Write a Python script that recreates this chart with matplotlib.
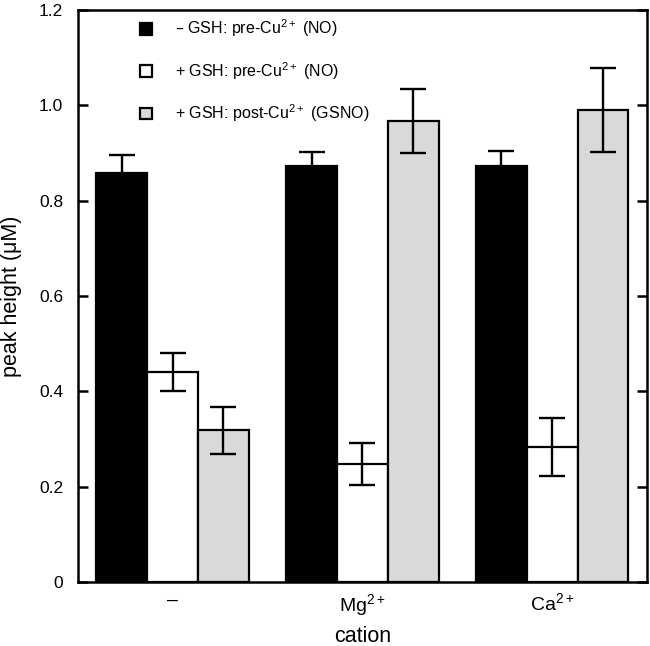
import matplotlib
matplotlib.use("Agg")
import matplotlib.pyplot as plt
import numpy as np

plt.rcParams['font.family'] = ['Liberation Sans', 'DejaVu Sans']
plt.rcParams['mathtext.default'] = 'regular'

categories = ['–', 'Mg$^{2+}$', 'Ca$^{2+}$']
series_labels = ['– GSH: pre-Cu$^{2+}$ (NO)',
                 '+ GSH: pre-Cu$^{2+}$ (NO)',
                 '+ GSH: post-Cu$^{2+}$ (GSNO)']
minus_gsh_pre = [0.858, 0.873, 0.872]
minus_gsh_pre_err = [0.037, 0.029, 0.033]
plus_gsh_pre = [0.440, 0.248, 0.283]
plus_gsh_pre_err = [0.040, 0.044, 0.060]
plus_gsh_post = [0.318, 0.967, 0.990]
plus_gsh_post_err = [0.050, 0.067, 0.088]

colors = ['black', 'white', '#d9d9d9']
values = [minus_gsh_pre, plus_gsh_pre, plus_gsh_post]
errors = [minus_gsh_pre_err, plus_gsh_pre_err, plus_gsh_post_err]

fig = plt.figure(figsize=(6.5, 6.46), dpi=100)
ax = fig.add_axes([0.1195, 0.0991, 0.876, 0.8854])

x = np.arange(len(categories))
w = 0.268
handles = []
for i, (vals, errs, c, lab) in enumerate(zip(values, errors, colors, series_labels)):
    pos = x + (i - 1) * w
    b = ax.bar(pos, vals, width=w, color=c, edgecolor='black', linewidth=1.6,
               label=lab, zorder=2)
    ax.errorbar(pos, vals, yerr=errs, fmt='none', ecolor='black', elinewidth=1.7,
                capsize=9.5, capthick=1.7, zorder=3)
    handles.append(b)

ax.set_xlim(-0.5, 2.5)
ax.set_ylim(0, 1.2)
ax.set_yticks([0, 0.2, 0.4, 0.6, 0.8, 1.0, 1.2])
ax.set_yticklabels(['0', '0.2', '0.4', '0.6', '0.8', '1.0', '1.2'])
ax.set_xticks(x)
ax.set_xticklabels(categories)
ax.tick_params(axis='x', length=0, pad=7, labelsize=14)
ax.tick_params(axis='y', direction='in', length=7, width=1.8, right=True,
               labelsize=12.5, pad=10.5)
for s in ax.spines.values():
    s.set_linewidth(1.8)

ax.set_xlabel('cation', fontsize=15.5, labelpad=6)
ax.set_ylabel('peak height (μM)', fontsize=15.5, labelpad=12)

leg = ax.legend(handles=handles, loc='upper left', bbox_to_anchor=(0.085, 1.012),
                frameon=False, fontsize=11.5, handlelength=0.75, handleheight=0.75,
                handletextpad=1.44, labelspacing=1.3)

fig.savefig('out.png', dpi=100)
